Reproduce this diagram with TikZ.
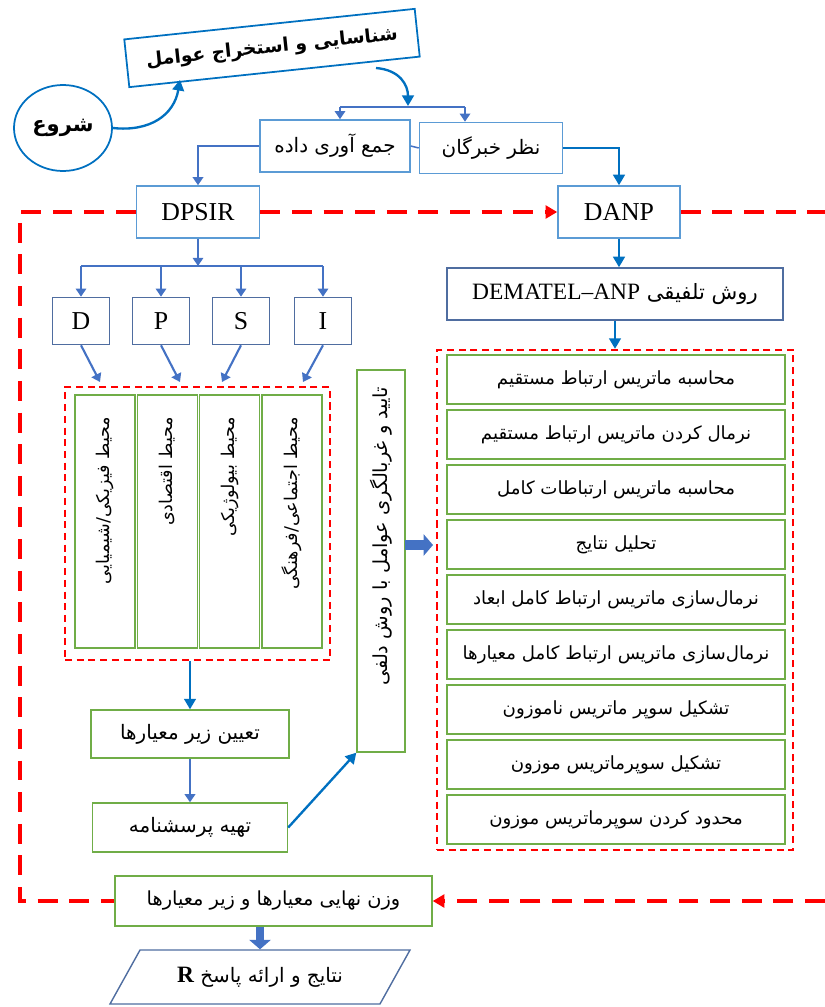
\documentclass[tikz,border=0pt]{standalone}
\usepackage{fontspec}
\setmainfont{Liberation Serif}
\newfontfamily\farsi[Script=Arabic]{DejaVu Sans}
\TeXXeTstate=1
\usetikzlibrary{arrows.meta, shapes.geometric, positioning}

\definecolor{titleblue}{RGB}{0,112,192}
\definecolor{boxblue}{RGB}{91,155,213}
\definecolor{slate}{RGB}{79,109,160}
\definecolor{busblue}{RGB}{68,114,196}
\definecolor{leafgreen}{RGB}{112,173,71}
\definecolor{loopred}{RGB}{255,0,0}

\newcommand{\fa}[1]{{\farsi\beginR #1\endR}}

\begin{document}
\begin{tikzpicture}[x=0.03cm, y=-0.03cm,
  wd/.style={minimum width=#1*0.03cm},
  ht/.style={minimum height=#1*0.03cm},
  bluebox/.style={draw=boxblue, line width=1.3pt, inner sep=1pt},
  slatebox/.style={draw=slate, line width=1.3pt, inner sep=1pt},
  greenbox/.style={draw=leafgreen, line width=1.2pt, inner sep=1pt},
  redframe/.style={draw=loopred, line width=2pt, dash pattern=on 6pt off 4pt},
  loopline/.style={loopred, line width=2.6pt, dash pattern=on 17pt off 10pt},
  flow/.style={titleblue, line width=2pt, -{Triangle[length=9pt,width=10pt]}},
  feed/.style={busblue, line width=1.4pt, -{Triangle[length=7pt,width=9pt]}},
  fat/.style={busblue, line width=8pt, -{Triangle[length=8pt,width=18pt]}},
  vtext/.style={rotate=90, anchor=east, font=\fontsize{#1}{#1}\selectfont},
  latin/.style={font=\fontsize{22}{24}\selectfont},
  fasize/.style={font=\fontsize{#1}{#1}\selectfont},
]
\useasboundingbox (0,0) rectangle (825,1007);

% start and identification
\node[draw=titleblue, line width=1.5pt, rotate=6, wd=292, ht=48, fasize=16] (ident) at (272,48) {\fa{\bfseries شناسایی و استخراج عوامل}};
\node[draw=titleblue, line width=1.5pt, ellipse, wd=98, ht=86, fasize=18] (start) at (63,128) {\fa{\bfseries شروع}};
\coordinate (identIn) at (180,80);
\coordinate (identOut) at (376,68);
\draw[flow] (start.east) .. controls (150,132) and (174,115) .. (identIn);

% data sources
\node[bluebox, wd=150, ht=52, fasize=17] (gather) at (335,146) {\fa{جمع آوری داده}};
\node[bluebox, wd=143, ht=51, fasize=17] (expert) at (491,148) {\fa{نظر خبرگان}};
\coordinate (busL) at (340,107);
\coordinate (busR) at (465,107);
\draw[busblue, line width=1.3pt] (busL) -- (busR);
\draw[flow] (identOut) .. controls (400,70) and (408,85) .. (408,106);
\draw[feed] (busL) -- (busL |- gather.north);
\draw[feed] (busR) -- (busR |- expert.north);
\draw[busblue, line width=1.3pt] (gather.east) -- (expert.west);

% two methods
\node[bluebox, wd=123, ht=52, latin] (dpsir) at (198,212) {DPSIR};
\node[bluebox, wd=122, ht=52, latin] (danp) at (619,212) {DANP};
\draw[feed, line width=2pt] (gather.west) -| (dpsir.north);
\draw[flow] (expert.east) -| (danp.north);

% DPSIR branch
\node[slatebox, wd=57, ht=47, latin] (d) at (81,321) {D};
\node[slatebox, wd=57, ht=47, latin] (p) at (161,321) {P};
\node[slatebox, wd=57, ht=47, latin] (s) at (241,321) {S};
\node[slatebox, wd=57, ht=47, latin] (i) at (323,321) {I};
\coordinate (split) at (198,266);
\draw[feed] (dpsir.south) -- (split);
\draw[busblue, line width=1.3pt] (d.north |- split) -- (i.north |- split);
\foreach \n in {d,p,s,i}
  \draw[feed] (\n.north |- split) -- (\n.north);

\node[redframe, wd=265, ht=273] (envL) at (197.5,523.5) {};
\foreach \n/\x/\t in {phys/105/{محیط فیزیکی/شیمیایی}, econ/167.5/{محیط اقتصادی},
                      bio/229.5/{محیط بیولوژیکی}, soc/292/{محیط اجتماعی/فرهنگی}} {
  \node[greenbox, wd=60, ht=253] (\n) at (\x,521.5) {};
  \node[vtext=15] at ([yshift=-0.55cm]\n.north) {\fa{\t}};
}
\foreach \n/\x in {d/100, p/180, s/222, i/303} {
  \coordinate (\n in) at (\x,382);
  \draw[feed, line width=1.8pt] (\n.south) -- (\n in);
}

\node[greenbox, wd=48, ht=382] (delphi) at (381,561) {};
\node[vtext=16.5] at ([yshift=-0.4cm]delphi.north) {\fa{تایید و غربالگری عوامل با روش دلفی}};

\node[greenbox, wd=198, ht=48, fasize=17] (crit) at (190,734) {\fa{تعیین زیر معیارها}};
\node[greenbox, wd=195, ht=49, fasize=17] (quest) at (190,827.5) {\fa{تهیه پرسشنامه}};
\draw[flow] (crit.north |- envL.south) -- (crit.north);
\draw[feed, line width=1.8pt] (crit.south) -- (quest.north);
\draw[flow] (quest.east) -- (delphi.south west);

% DANP branch
\node[slatebox, wd=336, ht=52, fasize=18] (dematel) at (615,294) {\fa{روش تلفیقی \beginL{\rmfamily\fontsize{20}{22}\selectfont DEMATEL–ANP}\endL}};
\draw[flow] (danp.south) -- (danp.south |- dematel.north);
\node[redframe, wd=356, ht=500] (envR) at (615,600) {};
\draw[flow] (dematel.south) -- (dematel.south |- envR.north);
\foreach \t [count=\k] in {محاسبه ماتریس ارتباط مستقیم, نرمال کردن ماتریس ارتباط مستقیم,
    محاسبه ماتریس ارتباطات کامل, تحلیل نتایج, نرمال‌سازی ماتریس ارتباط کامل ابعاد,
    نرمال‌سازی ماتریس ارتباط کامل معیارها, تشکیل سوپر ماتریس ناموزون,
    تشکیل سوپرماتریس موزون, محدود کردن سوپرماتریس موزون}
  \node[greenbox, wd=338, ht=49, fasize=15.5] (stage\k) at (616,324.5+55*\k) {\fa{\t}};

\coordinate (fatL) at (405,545);
\coordinate (fatR) at (433,545);
\draw[fat] (fatL) -- (fatR);

% results
\node[greenbox, wd=317, ht=50, fasize=16.5] (final) at (273.5,901) {\fa{وزن نهایی معیارها و زیر معیارها}};
\node[draw=slate, line width=1.2pt, trapezium, trapezium left angle=43, trapezium right angle=137,
      trapezium stretches body, wd=300, ht=54, fasize=17] (result) at (260,977)
      {\fa{نتایج و ارائه پاسخ \beginL{\rmfamily\bfseries\fontsize{20}{22}\selectfont R}\endL}};
\draw[fat, line width=7pt] (result.north |- final.south) -- (result.north);

% feedback loop
\coordinate (loopNW) at (20,212);
\coordinate (loopSW) at (20,901);
\coordinate (loopNE) at (825,212);
\coordinate (loopSE) at (825,901);
\draw[loopline] (dpsir.west) -- (loopNW) -- (loopSW) -- (final.west);
\draw[loopline, -{Triangle[length=10pt,width=11pt]}] (dpsir.east) -- (danp.west);
\draw[loopline] (danp.east) -- (loopNE);
\draw[loopline, -{Triangle[length=10pt,width=11pt]}] (loopSE) -- (final.east);
\end{tikzpicture}
\end{document}
